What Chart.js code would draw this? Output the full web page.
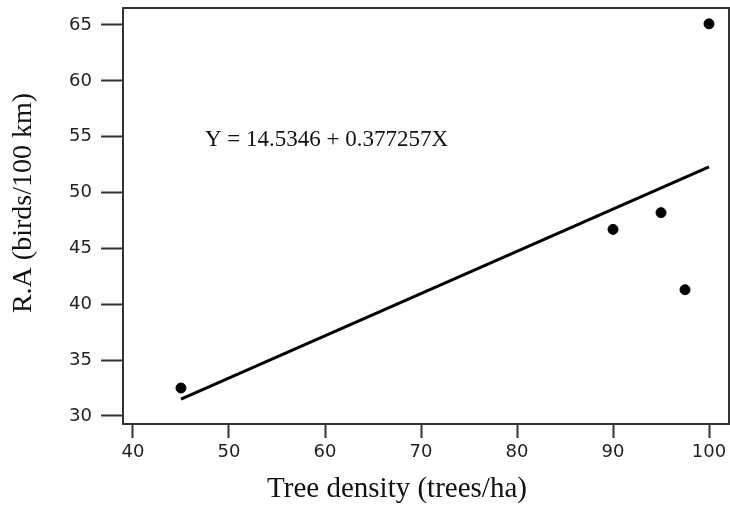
<!DOCTYPE html>
<html>
<head>
<meta charset="utf-8">
<script src="https://cdn.jsdelivr.net/npm/chart.js@4.4.1/dist/chart.umd.min.js"></script>
<style>
  html, body { margin: 0; padding: 0; background: #fff; }
  #wrap { width: 730px; height: 508px; }
</style>
</head>
<body>
<div id="wrap"><canvas id="chart" width="730" height="508"></canvas></div>
<script>
// observed points
const densityX = [45, 90, 95, 97.5, 100];
const abundanceY = [32.5, 46.7, 48.2, 41.3, 65.1];
// fitted line end points (Y = 14.5346 + 0.377257X)
const fitX = [45, 100];
const fitY = [31.5, 52.3];
const xTicks = [40, 50, 60, 70, 80, 90, 100];
const yTicks = [30, 35, 40, 45, 50, 55, 60, 65];
const equationText = 'Y = 14.5346 + 0.377257X';
const xTitle = 'Tree density (trees/ha)';
const yTitle = 'R.A (birds/100 km)';

const toPts = (xs, ys) => xs.map((x, i) => ({ x: x, y: ys[i] }));

// box around plot + titles + equation
const extras = {
  id: 'extras',
  afterDraw(chart) {
    const ctx = chart.ctx;
    const a = chart.chartArea;
    ctx.save();
    ctx.strokeStyle = '#333';
    ctx.lineWidth = 2;
    ctx.beginPath();
    ctx.moveTo(a.left, a.top);
    ctx.lineTo(a.right, a.top);
    ctx.lineTo(a.right, a.bottom);
    ctx.stroke();

    ctx.fillStyle = '#111';
    ctx.font = '23px "Liberation Serif"';
    ctx.textAlign = 'left';
    ctx.textBaseline = 'middle';
    ctx.fillText(equationText, 205, 140);

    ctx.font = '29px "Liberation Serif"';
    ctx.textAlign = 'center';
    ctx.fillText(xTitle, 397, 489);

    ctx.font = '28px "Liberation Serif"';
    ctx.translate(24, 203);
    ctx.rotate(-Math.PI / 2);
    ctx.fillText(yTitle, 0, 0);
    ctx.restore();
  }
};

const tickFont = { family: '"DejaVu Sans"', size: 18 };

// no extra room for half tick labels at the axis ends
const noEdgePad = s => {
  s.paddingTop = 0;
  s.paddingBottom = 0;
  s.paddingLeft = 0;
  s.paddingRight = 0;
};

new Chart(document.getElementById('chart'), {
  type: 'scatter',
  data: {
    datasets: [{
      label: 'fit',
      type: 'line',
      data: toPts(fitX, fitY),
      borderColor: '#000',
      borderWidth: 3,
      pointRadius: 0,
      fill: false
    }, {
      label: 'obs',
      data: toPts(densityX, abundanceY),
      backgroundColor: '#000',
      borderColor: '#000',
      pointRadius: 5,
      pointHoverRadius: 5
    }]
  },
  plugins: [extras],
  options: {
    responsive: false,
    animation: false,
    layout: { autoPadding: false, padding: { top: 8, right: 1, left: 0, bottom: 0 } },
    plugins: { legend: { display: false }, tooltip: { enabled: false } },
    scales: {
      x: {
        type: 'linear',
        min: 38.96,
        max: 102.08,
        afterBuildTicks: s => { s.ticks = xTicks.map(v => ({ value: v })); },
        afterFit: s => { s.height = 84; noEdgePad(s); },
        border: { display: true, color: '#333', width: 2 },
        grid: { display: true, drawOnChartArea: false, tickLength: 14, tickWidth: 2, tickColor: '#333' },
        ticks: { color: '#222', font: tickFont, padding: 4, maxRotation: 0 }
      },
      y: {
        type: 'linear',
        min: 29.28,
        max: 66.52,
        afterBuildTicks: s => { s.ticks = yTicks.map(v => ({ value: v })); },
        afterFit: s => { s.width = 123; noEdgePad(s); },
        border: { display: true, color: '#333', width: 2 },
        grid: { display: true, drawOnChartArea: false, tickLength: 22, tickWidth: 2, tickColor: '#333' },
        ticks: { color: '#222', font: tickFont, padding: 9 }
      }
    }
  }
});
</script>
</body>
</html>
